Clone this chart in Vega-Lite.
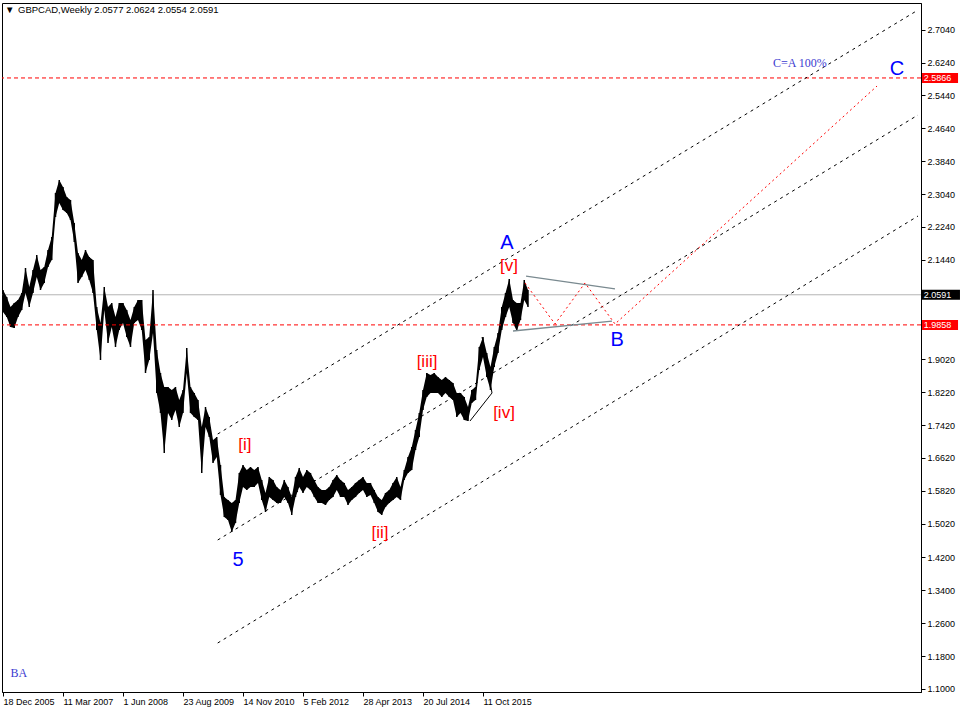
{
  "$schema": "https://vega.github.io/schema/vega-lite/v6.json",
  "width": 919,
  "height": 689,
  "autosize": {"type": "none"},
  "padding": {"left": 2, "top": 3, "right": 40, "bottom": 21},
  "background": "#ffffff",
  "config": {
    "view": {"stroke": "#000000", "strokeWidth": 1},
    "axis": {"grid": false, "title": null, "domainColor": "#000000", "tickColor": "#000000", "labelColor": "#000000", "labelFont": "Liberation Sans", "labelFontSize": 9, "tickSize": 4}
  },
  "datasets": {
    "px": [
      {"w":0,"p":2.0707,"l":2.0172},{"w":4,"p":2.0537,"l":2.0050},{"w":8,"p":2.0294,"l":1.9807},{"w":12,"p":2.0391,"l":1.9783},
      {"w":16,"p":2.0464,"l":2.0050},{"w":20,"p":2.0634,"l":2.0221},{"w":24,"p":2.1243,"l":2.0634},{"w":28,"p":2.0780,"l":2.0294},
      {"w":32,"p":2.1194,"l":2.0634},{"w":36,"p":2.1559,"l":2.1024},{"w":40,"p":2.1194,"l":2.0707},{"w":44,"p":2.1267,"l":2.0878},
      {"w":48,"p":2.1681,"l":2.1267},{"w":52,"p":2.1997,"l":2.1437},{"w":56,"p":2.3067,"l":2.2483},{"w":60,"p":2.3384,"l":2.2824},
      {"w":64,"p":2.3213,"l":2.2654},{"w":68,"p":2.2970,"l":2.2581},{"w":72,"p":2.2897,"l":2.2410},{"w":76,"p":2.2337,"l":2.1875},
      {"w":80,"p":2.1608,"l":2.0878},{"w":84,"p":2.1437,"l":2.1024},{"w":88,"p":2.1681,"l":2.1194},{"w":92,"p":2.1510,"l":2.0951},
      {"w":96,"p":2.1437,"l":2.0634},{"w":100,"p":2.0294,"l":1.9734},{"w":104,"p":1.9904,"l":1.9004},{"w":108,"p":2.0780,"l":2.0221},
      {"w":112,"p":2.0294,"l":1.9418},{"w":116,"p":2.0391,"l":1.9807},{"w":120,"p":2.0050,"l":1.9321},{"w":124,"p":2.0391,"l":1.9734},
      {"w":128,"p":2.0391,"l":1.9904},{"w":132,"p":2.0221,"l":1.9564},{"w":136,"p":1.9977,"l":1.9321},{"w":140,"p":2.0294,"l":1.9904},
      {"w":144,"p":2.0464,"l":1.9977},{"w":148,"p":2.0464,"l":1.9734},{"w":152,"p":1.9491,"l":1.8688},{"w":156,"p":1.9564,"l":1.9004},
      {"w":160,"p":2.0707,"l":1.9661},{"w":164,"p":1.9248,"l":1.8201},{"w":168,"p":1.8688,"l":1.7715},{"w":172,"p":1.8347,"l":1.6741},
      {"w":176,"p":1.8347,"l":1.7715},{"w":180,"p":1.8274,"l":1.7544},{"w":184,"p":1.8347,"l":1.7788},{"w":188,"p":1.8031,"l":1.7374},
      {"w":192,"p":1.8274,"l":1.7715},{"w":196,"p":1.9296,"l":1.8688},{"w":200,"p":1.8347,"l":1.7715},{"w":204,"p":1.8201,"l":1.7617},
      {"w":208,"p":1.8031,"l":1.7544},{"w":212,"p":1.7374,"l":1.6255},{"w":216,"p":1.7861,"l":1.7374},{"w":220,"p":1.7617,"l":1.7131},
      {"w":224,"p":1.7058,"l":1.6498},{"w":228,"p":1.7131,"l":1.6644},{"w":232,"p":1.6450,"l":1.5720},{"w":236,"p":1.5671,"l":1.5184},
      {"w":240,"p":1.5598,"l":1.5111},{"w":244,"p":1.5525,"l":1.4819},{"w":248,"p":1.5598,"l":1.5038},{"w":252,"p":1.6255,"l":1.5525},
      {"w":256,"p":1.6450,"l":1.5914},{"w":260,"p":1.6328,"l":1.5841},{"w":264,"p":1.6401,"l":1.5914},{"w":268,"p":1.6328,"l":1.5914},
      {"w":272,"p":1.6401,"l":1.6012},{"w":276,"p":1.6085,"l":1.5598},{"w":280,"p":1.5768,"l":1.5306},{"w":284,"p":1.6158,"l":1.5671},
      {"w":288,"p":1.6085,"l":1.5598},{"w":292,"p":1.5914,"l":1.5525},{"w":296,"p":1.5841,"l":1.5525},{"w":300,"p":1.6085,"l":1.5671},
      {"w":304,"p":1.5914,"l":1.5525},{"w":308,"p":1.5671,"l":1.5233},{"w":312,"p":1.6158,"l":1.5671},{"w":316,"p":1.6377,"l":1.5914},
      {"w":320,"p":1.6158,"l":1.5768},{"w":324,"p":1.6328,"l":1.5914},{"w":328,"p":1.6255,"l":1.5841},{"w":332,"p":1.6085,"l":1.5671},
      {"w":336,"p":1.5914,"l":1.5525},{"w":340,"p":1.5841,"l":1.5525},{"w":344,"p":1.5841,"l":1.5476},{"w":348,"p":1.5914,"l":1.5598},
      {"w":352,"p":1.6085,"l":1.5671},{"w":356,"p":1.6206,"l":1.5841},{"w":360,"p":1.6085,"l":1.5671},{"w":364,"p":1.6012,"l":1.5671},
      {"w":368,"p":1.5841,"l":1.5476},{"w":372,"p":1.5914,"l":1.5598},{"w":376,"p":1.6012,"l":1.5671},{"w":380,"p":1.6085,"l":1.5768},
      {"w":384,"p":1.6158,"l":1.5841},{"w":388,"p":1.6012,"l":1.5671},{"w":392,"p":1.6012,"l":1.5720},{"w":396,"p":1.5841,"l":1.5525},
      {"w":400,"p":1.5671,"l":1.5306},{"w":404,"p":1.5598,"l":1.5233},{"w":408,"p":1.5768,"l":1.5428},{"w":412,"p":1.5841,"l":1.5525},
      {"w":416,"p":1.6012,"l":1.5598},{"w":420,"p":1.6158,"l":1.5671},{"w":424,"p":1.5914,"l":1.5598},{"w":428,"p":1.6328,"l":1.6085},
      {"w":432,"p":1.6644,"l":1.6255},{"w":436,"p":1.6887,"l":1.6328},{"w":440,"p":1.7301,"l":1.6814},{"w":444,"p":1.7715,"l":1.7131},
      {"w":448,"p":1.8274,"l":1.7788},{"w":452,"p":1.8688,"l":1.8104},{"w":456,"p":1.8639,"l":1.8201},{"w":460,"p":1.8688,"l":1.8201},
      {"w":464,"p":1.8591,"l":1.8201},{"w":468,"p":1.8518,"l":1.8104},{"w":472,"p":1.8591,"l":1.8201},{"w":476,"p":1.8518,"l":1.8104},
      {"w":480,"p":1.8445,"l":1.8031},{"w":484,"p":1.8201,"l":1.7617},{"w":488,"p":1.8201,"l":1.7715},{"w":492,"p":1.8104,"l":1.7544},
      {"w":496,"p":1.7861,"l":1.7520},{"w":500,"p":1.8274,"l":1.7958},{"w":504,"p":1.8347,"l":1.8031},{"w":508,"p":1.9321,"l":1.8761},
      {"w":512,"p":1.9564,"l":1.9077},{"w":516,"p":1.9175,"l":1.8591},{"w":520,"p":1.8834,"l":1.8274},{"w":524,"p":1.9321,"l":1.8834},
      {"w":528,"p":1.9661,"l":1.9175},{"w":532,"p":2.0294,"l":1.9734},{"w":536,"p":2.0634,"l":2.0050},{"w":540,"p":2.0975,"l":2.0294},
      {"w":544,"p":2.0464,"l":1.9904},{"w":548,"p":2.0391,"l":1.9710},{"w":552,"p":2.0391,"l":1.9977},{"w":556,"p":2.0951,"l":2.0464},
      {"w":560,"p":2.0707,"l":2.0294}
    ],
    "ch": [
      {"g":"top","w":229,"p":1.7203},{"g":"top","w":976,"p":2.7519},
      {"g":"mid","w":229,"p":1.4624},{"g":"mid","w":976,"p":2.4965},
      {"g":"bot","w":229,"p":1.2118},{"g":"bot","w":976,"p":2.2507}
    ],
    "tl": [
      {"g":"a","w":511,"p":1.9563},{"g":"a","w":521.6,"p":1.8201},
      {"g":"b","w":498.1,"p":1.7519},{"g":"b","w":521.6,"p":1.8201}
    ],
    "tri": [
      {"g":"up","w":557.9,"p":2.1047},{"g":"up","w":652.8,"p":2.0733},
      {"g":"lo","w":544,"p":1.9709},{"g":"lo","w":649.6,"p":1.9952}
    ],
    "zz": [
      {"w":556.8,"p":2.0877},{"w":588.8,"p":1.9880},{"w":620.8,"p":2.0878},{"w":652.8,"p":1.9880},{"w":932.3,"p":2.5670}
    ],
    "lv": [
      {"p":2.5866,"k":"level"},{"p":1.9858,"k":"level"},{"p":2.0591,"k":"price"}
    ],
    "lab": [
      {"t":"A","w":537.6,"p":2.185,"k":"major"},
      {"t":"B","w":655,"p":1.949,"k":"major"},
      {"t":"C","w":953.6,"p":2.6084,"k":"major"},
      {"t":"5","w":250.7,"p":1.4136,"k":"major"},
      {"t":"[i]","w":258.1,"p":1.6942,"k":"minor"},
      {"t":"[ii]","w":402.1,"p":1.4797,"k":"minor"},
      {"t":"[iii]","w":452.3,"p":1.8955,"k":"minor"},
      {"t":"[iv]","w":534.4,"p":1.7716,"k":"minor"},
      {"t":"[v]","w":539.7,"p":2.129,"k":"minor"},
      {"t":"C=A 100%","w":850,"p":2.623,"k":"note"},
      {"t":"BA","w":17,"p":1.1388,"k":"note"},
      {"t":"▼","w":2.2,"p":2.752,"k":"title"},
      {"t":"GBPCAD,Weekly  2.0577 2.0624 2.0554 2.0591","w":16,"p":2.752,"k":"title"}
    ]
  },
  "encoding": {
    "y": {
      "field": "p", "type": "quantitative",
      "scale": {"domain": [1.0926, 2.769], "nice": false, "zero": false},
      "axis": {
        "orient": "right",
        "values": [1.1, 1.18, 1.26, 1.34, 1.42, 1.502, 1.582, 1.662, 1.742, 1.822, 1.902, 2.144, 2.224, 2.304, 2.384, 2.464, 2.544, 2.624, 2.704],
        "format": ".4f",
        "labelPadding": 2,
        "labelOverlap": false,
        "labelFlush": false
      }
    }
  },
  "layer": [
    {
      "data": {"name": "lv"},
      "transform": [{"filter": "datum.k == 'price'"}],
      "mark": {"type": "rule", "color": "#b4b4b4", "strokeWidth": 1},
      "encoding": {}
    },
    {
      "data": {"name": "px"},
      "mark": {"type": "area", "color": "#000000", "opacity": 1},
      "encoding": {
        "x": {
          "field": "w", "type": "quantitative",
          "scale": {"domain": [-1.067, 979.2], "nice": false, "zero": false},
          "axis": {
            "orient": "bottom",
            "values": [0, 64, 128, 192, 256, 320, 384, 448, 512],
            "labelExpr": "['18 Dec 2005','11 Mar 2007','1 Jun 2008','23 Aug 2009','14 Nov 2010','5 Feb 2012','28 Apr 2013','20 Jul 2014','11 Oct 2015'][round(datum.value/64)]",
            "labelAlign": "left",
            "labelBaseline": "top",
            "labelPadding": 1,
            "labelOverlap": false,
            "labelFlush": false
          }
        },
        "y2": {"field": "l"}
      }
    },
    {
      "data": {"name": "px"},
      "mark": {"type": "rule", "color": "#000000", "strokeWidth": 1.5},
      "encoding": {"x": {"field": "w", "type": "quantitative", "scale": {"domain": [-1.067, 979.2], "nice": false, "zero": false}}, "y2": {"field": "l"}}
    },
    {
      "data": {"name": "lv"},
      "transform": [{"filter": "datum.k == 'level'"}],
      "mark": {"type": "rule", "color": "#ff0000", "strokeWidth": 1, "strokeDash": [4, 3]},
      "encoding": {}
    },
    {
      "data": {"name": "ch"},
      "mark": {"type": "line", "color": "#000000", "strokeWidth": 1, "strokeDash": [3, 4]},
      "encoding": {"x": {"field": "w", "type": "quantitative", "scale": {"domain": [-1.067, 979.2], "nice": false, "zero": false}}, "detail": {"field": "g"}}
    },
    {
      "data": {"name": "tl"},
      "mark": {"type": "line", "color": "#000000", "strokeWidth": 1},
      "encoding": {"x": {"field": "w", "type": "quantitative", "scale": {"domain": [-1.067, 979.2], "nice": false, "zero": false}}, "detail": {"field": "g"}}
    },
    {
      "data": {"name": "tri"},
      "mark": {"type": "line", "color": "#7a8a90", "strokeWidth": 1.3},
      "encoding": {"x": {"field": "w", "type": "quantitative", "scale": {"domain": [-1.067, 979.2], "nice": false, "zero": false}}, "detail": {"field": "g"}}
    },
    {
      "data": {"name": "zz"},
      "mark": {"type": "line", "color": "#ff0000", "strokeWidth": 1, "strokeDash": [2, 3]},
      "encoding": {"x": {"field": "w", "type": "quantitative", "scale": {"domain": [-1.067, 979.2], "nice": false, "zero": false}}}
    },
    {
      "data": {"name": "lab"},
      "transform": [{"filter": "datum.k == 'major'"}],
      "mark": {"type": "text", "color": "#0000ff", "font": "Liberation Sans", "fontSize": 20, "align": "center", "baseline": "middle"},
      "encoding": {"x": {"field": "w", "type": "quantitative", "scale": {"domain": [-1.067, 979.2], "nice": false, "zero": false}}, "text": {"field": "t"}}
    },
    {
      "data": {"name": "lab"},
      "transform": [{"filter": "datum.k == 'minor'"}],
      "mark": {"type": "text", "color": "#ff0000", "font": "Liberation Sans", "fontSize": 17, "align": "center", "baseline": "middle"},
      "encoding": {"x": {"field": "w", "type": "quantitative", "scale": {"domain": [-1.067, 979.2], "nice": false, "zero": false}}, "text": {"field": "t"}}
    },
    {
      "data": {"name": "lab"},
      "transform": [{"filter": "datum.k == 'note'"}],
      "mark": {"type": "text", "color": "#3c3cd0", "font": "Liberation Serif", "fontSize": 12, "align": "center", "baseline": "middle"},
      "encoding": {"x": {"field": "w", "type": "quantitative", "scale": {"domain": [-1.067, 979.2], "nice": false, "zero": false}}, "text": {"field": "t"}}
    },
    {
      "data": {"name": "lab"},
      "transform": [{"filter": "datum.k == 'title'"}],
      "mark": {"type": "text", "color": "#000000", "font": "Liberation Sans", "fontSize": 9.5, "align": "left", "baseline": "middle"},
      "encoding": {"x": {"field": "w", "type": "quantitative", "scale": {"domain": [-1.067, 979.2], "nice": false, "zero": false}}, "text": {"field": "t"}}
    },
    {
      "data": {"name": "lv"},
      "transform": [{"filter": "datum.k == 'level'"}],
      "mark": {"type": "tick", "orient": "horizontal", "size": 36, "thickness": 10, "color": "#ff0000", "opacity": 1},
      "encoding": {"x": {"datum": 999.5, "type": "quantitative", "scale": {"domain": [-1.067, 979.2], "nice": false, "zero": false}}}
    },
    {
      "data": {"name": "lv"},
      "transform": [{"filter": "datum.k == 'price'"}],
      "mark": {"type": "tick", "orient": "horizontal", "size": 38, "thickness": 10, "color": "#000000", "opacity": 1},
      "encoding": {"x": {"datum": 1000.5, "type": "quantitative", "scale": {"domain": [-1.067, 979.2], "nice": false, "zero": false}}}
    },
    {
      "data": {"name": "lv"},
      "mark": {"type": "text", "color": "#ffffff", "font": "Liberation Sans", "fontSize": 9, "align": "left", "baseline": "middle"},
      "encoding": {"x": {"datum": 982, "type": "quantitative", "scale": {"domain": [-1.067, 979.2], "nice": false, "zero": false}}, "text": {"field": "p", "type": "quantitative", "format": ".4f"}}
    }
  ]
}
